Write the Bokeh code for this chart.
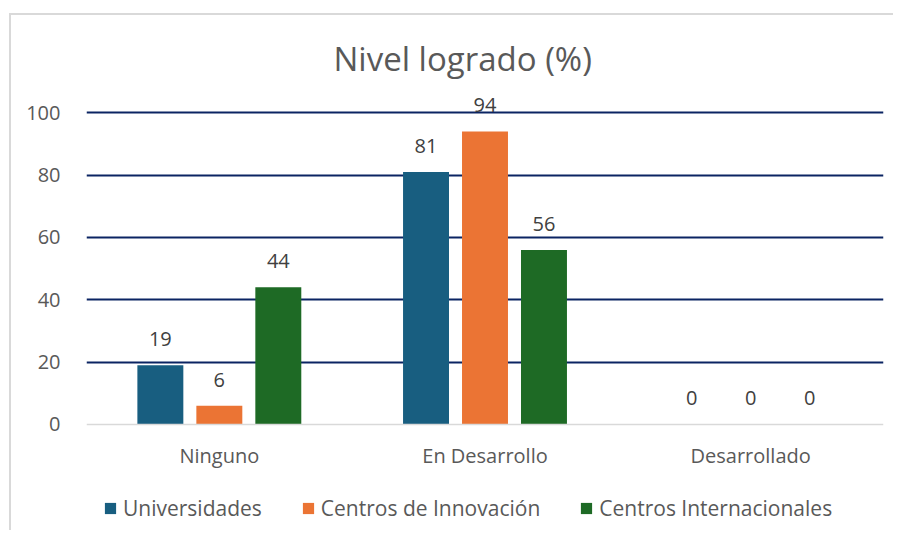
from bokeh.plotting import figure
from bokeh.models import ColumnDataSource, FactorRange, Range1d, FixedTicker, Legend, LegendItem
from bokeh.transform import dodge
from bokeh.core.properties import value
from bokeh.embed import file_html
from bokeh.resources import INLINE

categories = ["Ninguno", "En Desarrollo", "Desarrollado"]
series_names = ["Universidades", "Centros de Innovación", "Centros Internacionales"]
universidades = [19, 81, 0]
innovacion = [6, 94, 0]
internacionales = [44, 56, 0]
y_ticks = [0, 20, 40, 60, 80, 100]

colors = ["#185E80", "#EB7434", "#1E6A25"]
FONT = "Open Sans"

src = ColumnDataSource(dict(
    cat=categories,
    u=universidades, i=innovacion, c=internacionales,
    ul=[str(v) for v in universidades],
    il=[str(v) for v in innovacion],
    cl=[str(v) for v in internacionales],
))

p = figure(
    x_range=FactorRange(*categories, range_padding=0),
    y_range=Range1d(-34, 110),
    width=893, height=530,
    output_backend="svg", toolbar_location=None,
    min_border_left=86, min_border_right=10, min_border_bottom=0, min_border_top=81,
)
p.border_fill_color = None
p.background_fill_color = "white"
p.styles = {
    "background-color": "white",
    "background-image": "linear-gradient(#D9D9D9, #D9D9D9), linear-gradient(#D9D9D9, #D9D9D9)",
    "background-size": "2px 530px, 890px 2px",
    "background-position": "9px 13px, 9px 13px",
    "background-repeat": "no-repeat",
}

p.title.text = "Nivel logrado (%)"
p.title.align = "left"
p.title.offset = 247
p.title.standoff = 2
p.title.text_font = FONT
p.title.text_font_size = "33px"
p.title.text_font_style = "normal"
p.title.text_color = "#595959"

offsets = [-0.222, 0.0, 0.222]
cols = ["u", "i", "c"]
lcols = ["ul", "il", "cl"]
renderers = []
for off, col, lc, color in zip(offsets, cols, lcols, colors):
    r = p.vbar(x=dodge("cat", off, range=p.x_range), top=col, width=0.173,
               source=src, fill_color=color, line_color=None)
    renderers.append(r)
    p.text(x=dodge("cat", off, range=p.x_range), y=col, text=lc, source=src,
           text_align="center", text_baseline="middle", y_offset=-26,
           text_font=value(FONT), text_font_size="20px", text_color="#404040")

p.outline_line_color = None
p.xgrid.grid_line_color = None
p.ygrid.ticker = FixedTicker(ticks=[20, 40, 60, 80, 100])
p.ygrid.grid_line_color = "#0B2463"
p.ygrid.grid_line_width = 2

p.yaxis.ticker = FixedTicker(ticks=y_ticks)
p.yaxis.axis_line_color = None
p.yaxis.major_tick_line_color = None
p.yaxis.minor_tick_line_color = None
p.yaxis.major_label_standoff = 20
p.yaxis.major_label_text_font = FONT
p.yaxis.major_label_text_font_size = "20px"
p.yaxis.major_label_text_color = "#595959"

p.xaxis.fixed_location = 0
p.xaxis.axis_line_color = "#D9D9D9"
p.xaxis.axis_line_width = 1.5
p.xaxis.major_tick_line_color = None
p.xaxis.minor_tick_line_color = None
p.xaxis.major_label_standoff = 12
p.xaxis.major_label_text_font = FONT
p.xaxis.major_label_text_font_size = "20px"
p.xaxis.major_label_text_color = "#595959"

legend = Legend(
    items=[LegendItem(label=n, renderers=[r]) for n, r in zip(series_names, renderers)],
    orientation="horizontal", location=(17, 8),
    glyph_width=14, glyph_height=14, label_standoff=6, spacing=39,
    label_text_font=FONT, label_text_font_size="21px", label_text_color="#595959",
    border_line_color=None, background_fill_alpha=0, padding=0, margin=0,
)
p.add_layout(legend, "center")

open("out.html", "w").write(file_html(p, INLINE))
